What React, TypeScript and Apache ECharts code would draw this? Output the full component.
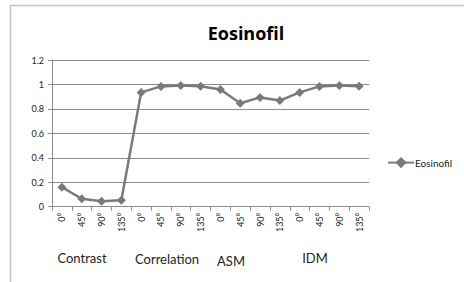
import React, { useEffect, useRef } from "react";
import * as echarts from "echarts";

const angles = ["0°", "45°", "90°", "135°", "0°", "45°", "90°", "135°", "0°", "45°", "90°", "135°", "0°", "45°", "90°", "135°"];
const values = [0.16, 0.065, 0.044, 0.052, 0.935, 0.984, 0.992, 0.986, 0.959, 0.846, 0.894, 0.868, 0.935, 0.984, 0.992, 0.986];
const groups = ["Contrast", "Correlation", "ASM", "IDM"];
const seriesName = "Eosinofil";
const titleText = "Eosinofil";

const FONT = "Lato, 'Open Sans', sans-serif";

export default function App() {
  const ref = useRef<HTMLDivElement>(null);
  useEffect(() => {
    if (!ref.current) return;
    const chart = echarts.init(ref.current, undefined, { renderer: "svg" });
    const groupPos = [
      { x: 82, y: 258 },
      { x: 167, y: 259 },
      { x: 231, y: 261 },
      { x: 315, y: 258 },
    ];
    chart.setOption({
      animation: false,
      backgroundColor: "#ffffff",
      textStyle: { fontFamily: FONT },
      title: {
        text: titleText,
        left: 241,
        top: 19,
        textAlign: "center",
        textStyle: { fontSize: 18, fontWeight: "bold", color: "#000", fontFamily: "'Open Sans', sans-serif" },
      },
      grid: { left: 52, right: 95, top: 60, bottom: 75.3 },
      legend: {
        left: 387,
        top: 157,
        padding: 0,
        itemWidth: 26,
        itemHeight: 14,
        itemGap: 2,
        data: [seriesName],
        textStyle: { fontSize: 10, color: "#222", fontFamily: FONT, padding: [0, 0, 0, -4] },
      },
      xAxis: {
        type: "category",
        data: angles,
        boundaryGap: true,
        axisLine: { lineStyle: { color: "#8c8c8c", width: 1 } },
        axisTick: { show: true, alignWithLabel: false, length: 4, lineStyle: { color: "#8c8c8c" } },
        axisLabel: { rotate: 90, fontSize: 9, color: "#222", margin: 6, interval: 0, fontFamily: FONT },
      },
      yAxis: {
        type: "value",
        min: 0,
        max: 1.2,
        interval: 0.2,
        axisLine: { show: true, lineStyle: { color: "#8c8c8c" } },
        axisTick: { show: true, length: 4, lineStyle: { color: "#8c8c8c" } },
        axisLabel: {
          fontSize: 9,
          color: "#222",
          margin: 8,
          fontFamily: FONT,
          formatter: (v: number) => String(Math.round(v * 10) / 10),
        },
        splitLine: { show: true, lineStyle: { color: "#8c8c8c", width: 1 } },
      },
      series: [
        {
          name: seriesName,
          type: "line",
          data: values,
          symbol: "diamond",
          symbolSize: 9,
          itemStyle: { color: "#7a7a7a" },
          lineStyle: { color: "#7a7a7a", width: 2.5 },
        },
      ],
      graphic: [
        {
          type: "rect",
          shape: { x: 10.5, y: 5.5, width: 600, height: 400 },
          style: { fill: "none", stroke: "#c4c4c4", lineWidth: 1.5 },
          silent: true,
        },
        ...groups.map((g, i) => ({
          type: "text",
          x: groupPos[i].x,
          y: groupPos[i].y,
          style: {
            text: g,
            fill: "#222",
            fontSize: 13,
            fontFamily: FONT,
            align: "center",
            verticalAlign: "middle",
          },
        })),
      ],
    });
    return () => chart.dispose();
  }, []);
  return <div ref={ref} style={{ position: "fixed", left: 0, top: 0, width: 464, height: 282 }} />;
}
